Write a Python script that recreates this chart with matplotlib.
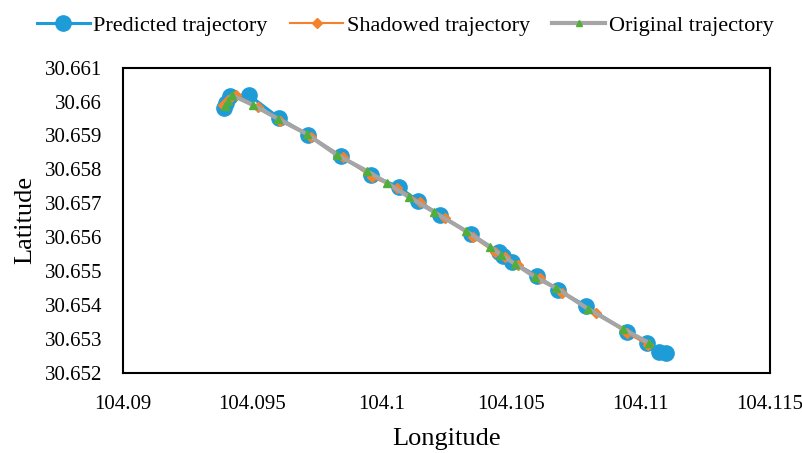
import matplotlib
matplotlib.use('Agg')
import matplotlib.pyplot as plt
from matplotlib.ticker import FixedLocator

plt.rcParams['font.family'] = ['Liberation Serif', 'DejaVu Serif']

# Predicted trajectory (longitude, latitude)
pred_lon = [104.09390, 104.09398, 104.09413, 104.09487, 104.09603, 104.09715,
            104.09842, 104.09958, 104.10066, 104.10140, 104.10225, 104.10345,
            104.10453, 104.10468, 104.10503, 104.10600, 104.10681, 104.10789,
            104.10947, 104.11025, 104.11071, 104.11098]
pred_lat = [30.65981, 30.65996, 30.66017, 30.66019, 30.65952, 30.65901,
            30.65839, 30.65783, 30.65748, 30.65707, 30.65665, 30.65609,
            30.65556, 30.65544, 30.65527, 30.65485, 30.65444, 30.65397,
            30.65320, 30.65288, 30.65261, 30.65258]

# Shadowed trajectory
shad_lon = [104.09386, 104.09406, 104.09437, 104.09522, 104.09607, 104.09726,
            104.09850, 104.09962, 104.10059, 104.10148, 104.10244, 104.10352,
            104.10437, 104.10476, 104.10526, 104.10611, 104.10696, 104.10828,
            104.10947, 104.11029]
shad_lat = [30.65990, 30.66005, 30.66019, 30.65984, 30.65943, 30.65896,
            30.65836, 30.65777, 30.65745, 30.65704, 30.65656, 30.65600,
            30.65556, 30.65541, 30.65518, 30.65479, 30.65435, 30.65376,
            30.65317, 30.65282]

# Original trajectory
orig_lon = [104.09394, 104.09406, 104.09421, 104.09502, 104.09599, 104.09711,
            104.09827, 104.09943, 104.10020, 104.10105, 104.10202, 104.10325,
            104.10418, 104.10461, 104.10515, 104.10592, 104.10673, 104.10797,
            104.10932, 104.11032]
orig_lat = [30.65987, 30.66002, 30.66019, 30.65990, 30.65949, 30.65904,
            30.65842, 30.65795, 30.65760, 30.65718, 30.65674, 30.65618,
            30.65571, 30.65547, 30.65521, 30.65482, 30.65450, 30.65388,
            30.65329, 30.65288]

x_ticks = [104.09, 104.095, 104.1, 104.105, 104.11, 104.115]
x_labels = ['104.09', '104.095', '104.1', '104.105', '104.11', '104.115']
y_ticks = [30.652, 30.653, 30.654, 30.655, 30.656, 30.657, 30.658, 30.659, 30.66, 30.661]
y_labels = ['30.652', '30.653', '30.654', '30.655', '30.656', '30.657', '30.658', '30.659', '30.66', '30.661']

fig = plt.figure(figsize=(8.02, 4.53), dpi=100)
ax = fig.add_axes([0.1534, 0.1775, 0.8066, 0.6731])

ax.plot(pred_lon, pred_lat, '-o', color='#1E9CD7', lw=2.2, ms=11,
        label='Predicted trajectory', zorder=2)
ax.plot(shad_lon, shad_lat, '-D', color='#F5812A', lw=1.5, ms=5,
        label='Shadowed trajectory', zorder=3)
ax.plot(orig_lon, orig_lat, '-', color='#A5A5A5', lw=3, zorder=4)
ax.plot(orig_lon, orig_lat, '^', color='#52AE3A', ms=6, zorder=5)
# legend proxy for the original track (grey line, small green marker)
ax.plot([], [], '-^', color='#A5A5A5', lw=3, ms=4, mfc='#52AE3A', mec='#52AE3A',
        label='Original trajectory')

ax.set_xlim(104.09, 104.115)
ax.set_ylim(30.652, 30.661)
ax.xaxis.set_major_locator(FixedLocator(x_ticks))
ax.yaxis.set_major_locator(FixedLocator(y_ticks))
ax.set_xticklabels(x_labels)
ax.set_yticklabels(y_labels)
ax.tick_params(length=0, labelsize=15)
ax.tick_params(axis='x', pad=16)
ax.tick_params(axis='y', pad=15)
for s in ax.spines.values():
    s.set_linewidth(1.5)

ax.set_xlabel('Longitude', fontsize=19, labelpad=10)
ax.set_ylabel('Latitude', fontsize=19, labelpad=6)

fig.legend(loc='upper center', bbox_to_anchor=(0.505, 1.01), ncol=3, frameon=False,
           fontsize=16, handlelength=2.4, columnspacing=1.0, handletextpad=0.15)

fig.savefig('out.png', dpi=100)
